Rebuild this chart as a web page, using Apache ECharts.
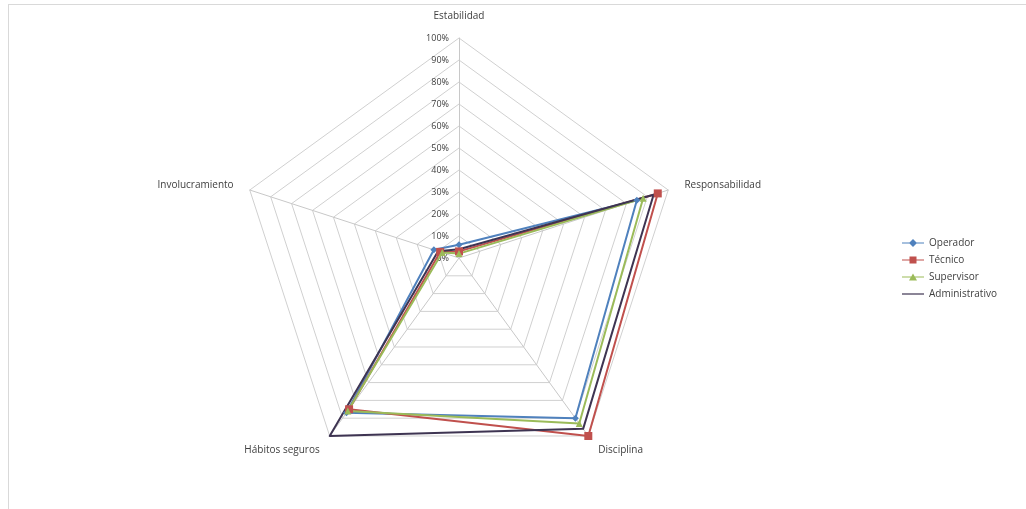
<!DOCTYPE html>
<html>
<head>
<meta charset="utf-8">
<script src="https://cdn.jsdelivr.net/npm/echarts@6/dist/echarts.min.js"></script>
<style>
html,body{margin:0;padding:0;background:#fff;}
#frame{position:absolute;left:8px;top:4px;width:1030px;height:520px;border:1px solid #d9d9d9;box-sizing:border-box;}
#chart{position:absolute;left:0;top:0;width:1026px;height:509px;}
</style>
</head>
<body>
<div id="frame"></div>
<div id="chart"></div>
<script>
const categories = ['Estabilidad', 'Responsabilidad', 'Disciplina', 'Hábitos seguros', 'Involucramiento'];
const seriesNames = ['Operador', 'Técnico', 'Supervisor', 'Administrativo'];
const operador = [6, 85, 90, 87, 12];
const tecnico = [3, 95, 100, 85, 9];
const supervisor = [2, 88, 93, 86, 8];
const administrativo = [4, 93, 96, 100, 10];
const tickValues = [0, 10, 20, 30, 40, 50, 60, 70, 80, 90, 100];

// ECharts radar runs counter-clockwise; Excel runs clockwise -> reorder.
const order = [0, 4, 3, 2, 1];

const colors = ['#4F81BD', '#C0504D', '#9BBB59', '#3E3452'];
const symbols = ['diamond', 'rect', 'triangle', 'none'];
const symbolSizes = [7, 8, 7, 0];
const legendIcons = [
  'path://M0,3.4 L22,3.4 L22,4.6 L0,4.6 Z M7,4 L11,0 L15,4 L11,8 Z',
  'path://M0,3.4 L22,3.4 L22,4.6 L0,4.6 Z M7.5,0.5 L14.5,0.5 L14.5,7.5 L7.5,7.5 Z',
  'path://M0,3.4 L22,3.4 L22,4.6 L0,4.6 Z M11,0.5 L15,7.5 L7,7.5 Z',
  'path://M0,3.4 L22,3.4 L22,4.6 L0,4.6 Z'
];
const dataSets = [operador, tecnico, supervisor, administrativo];

const chart = echarts.init(document.getElementById('chart'));
const font = '"Open Sans", "Liberation Sans", sans-serif';

chart.setOption({
  animation: false,
  textStyle: { fontFamily: font },
  legend: {
    orient: 'vertical',
    left: 897,
    top: 233,
    itemWidth: 22,
    itemHeight: 8,
    itemGap: 7,
    textStyle: { fontSize: 10, color: '#404040', fontFamily: font },
    data: seriesNames.map((n, i) => ({ name: n, icon: legendIcons[i], itemStyle: { color: colors[i] } }))
  },
  radar: {
    center: [459, 258],
    radius: 220,
    startAngle: 90,
    shape: 'polygon',
    splitNumber: 10,
    nameGap: 17,
    axisName: { color: '#404040', fontSize: 10, fontFamily: font },
    indicator: order.map(k => ({ name: categories[k], min: 0, max: 100 })),
    splitLine: { lineStyle: { color: '#d0d0d0', width: 1 } },
    splitArea: { show: false },
    axisLine: { lineStyle: { color: '#c8c8c8', width: 1 } },
    axisTick: { show: false },
    axisLabel: { show: false }
  },
  grid: { left: 459, top: 38, width: 1, height: 220 },
  xAxis: { type: 'value', show: false },
  yAxis: {
    type: 'value',
    min: 0,
    max: 100,
    interval: 10,
    axisLine: { show: false },
    axisTick: { show: false },
    splitLine: { show: false },
    axisLabel: {
      margin: 10,
      fontSize: 9,
      color: '#404040',
      fontFamily: font,
      formatter: v => tickValues.indexOf(v) >= 0 ? v + '%' : ''
    }
  },
  series: [{
    type: 'radar',
    data: seriesNames.map((n, i) => ({
      name: n,
      value: order.map(k => dataSets[i][k]),
      symbol: symbols[i],
      symbolSize: symbolSizes[i],
      lineStyle: { color: colors[i], width: 2 },
      itemStyle: { color: colors[i] }
    }))
  }]
});
</script>
</body>
</html>
